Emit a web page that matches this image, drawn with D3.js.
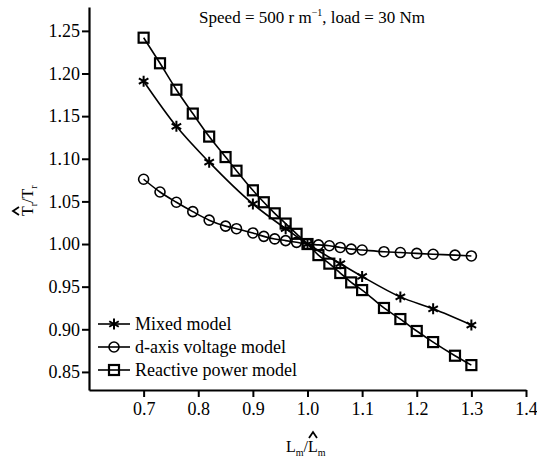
<!DOCTYPE html>
<html>
<head>
<meta charset="utf-8">
<script src="https://cdn.jsdelivr.net/npm/d3@7"></script>
</head>
<body style="margin:0;background:#fff">
<div id="warm" style="position:absolute;left:-9999px;top:0">
  <span style="font-family:'Liberation Serif'">a</span>
  <span style="font-family:Tinos">a</span>
  <span style="font-family:Times">a</span>
  <span style="font-family:'Times New Roman'">a</span>
</div>
<script>
// data
const xTicks = [0.7, 0.8, 0.9, 1.0, 1.1, 1.2, 1.3, 1.4];
const yTicks = [0.85, 0.90, 0.95, 1.00, 1.05, 1.10, 1.15, 1.20, 1.25];

const mixedX = [0.70, 0.76, 0.82, 0.90, 0.96, 1.00, 1.06, 1.10, 1.17, 1.23, 1.30];
const mixedY = [1.191, 1.138, 1.096, 1.047, 1.018, 1.000, 0.977, 0.962, 0.938, 0.924, 0.905];

const daxisX = [0.70, 0.73, 0.76, 0.79, 0.82, 0.85, 0.87, 0.90, 0.92, 0.94, 0.96, 0.98,
                1.00, 1.02, 1.04, 1.06, 1.08, 1.10, 1.14, 1.17, 1.20, 1.23, 1.27, 1.30];
const daxisY = [1.076, 1.061, 1.049, 1.038, 1.028, 1.021, 1.018, 1.013, 1.009, 1.006, 1.004, 1.002,
                1.000, 0.999, 0.998, 0.996, 0.994, 0.993, 0.991, 0.990, 0.989, 0.988, 0.987, 0.986];

const reactX = daxisX;
const reactY = [1.242, 1.212, 1.181, 1.153, 1.126, 1.102, 1.086, 1.063, 1.049, 1.036, 1.024, 1.012,
                1.000, 0.987, 0.977, 0.966, 0.955, 0.946, 0.925, 0.912, 0.898, 0.885, 0.869, 0.858];

const seriesNames = ['Mixed model', 'd-axis voltage model', 'Reactive power model'];
const seriesMarks = ['star', 'circle', 'square'];

// force a layout of the warm-up spans so the serif faces are looked up first
document.getElementById('warm').offsetWidth;

//////////////////////////////////////
// canvas and scales
//////////////////////////////////////
const WIDTH = 537;
const HEIGHT = 462;
const FONT = "'Times New Roman', Tinos, 'Liberation Serif'";

const svg = d3.select('body').append('svg')
  .attr('width', WIDTH)
  .attr('height', HEIGHT)
  .style('display', 'block');

const x = d3.scaleLinear().domain([0.6, 1.4]).range([89, 526]);
const y = d3.scaleLinear().domain([0.8288, 1.278]).range([390, 7]);

// axes
const xAxis = svg.append('g')
  .attr('transform', 'translate(0,' + y.range()[0] + ')')
  .call(d3.axisBottom(x).tickValues(xTicks).tickFormat(d3.format('.1f'))
    .tickSize(7).tickSizeOuter(0).tickPadding(5));

const yAxis = svg.append('g')
  .attr('transform', 'translate(' + x.range()[0] + ',0)')
  .call(d3.axisLeft(y).tickValues(yTicks).tickFormat(d3.format('.2f'))
    .tickSize(7).tickSizeOuter(0).tickPadding(2));

[xAxis, yAxis].forEach(a => {
  a.attr('font-family', null).attr('font-size', null);
  a.select('.domain').attr('stroke', '#000').attr('stroke-width', 2.2);
  a.selectAll('.tick line').attr('stroke', '#000').attr('stroke-width', 2);
  a.selectAll('.tick text')
    .style('font-family', FONT)
    .style('font-size', '18px')
    .attr('fill', '#000');
});

//////////////////////////////////////
// markers
//////////////////////////////////////
function marker (g, type, cx, cy) {
  switch (type) {
    case 'star': {
      let r = 5.5;
      let p = '';
      [90, 30, 150].forEach(a => {
        let dx = r * Math.cos(a * Math.PI / 180);
        let dy = r * Math.sin(a * Math.PI / 180);
        p += 'M' + (cx - dx) + ',' + (cy - dy) + 'L' + (cx + dx) + ',' + (cy + dy);
      });
      g.append('path').attr('d', p)
        .attr('stroke', '#000').attr('stroke-width', 2).attr('fill', 'none');
      break;
    }
    case 'circle':
      g.append('circle').attr('cx', cx).attr('cy', cy).attr('r', 5)
        .attr('stroke', '#000').attr('stroke-width', 1.6).attr('fill', 'none');
      break;
    case 'square':
      g.append('rect').attr('x', cx - 5).attr('y', cy - 5)
        .attr('width', 10).attr('height', 10)
        .attr('stroke', '#000').attr('stroke-width', 2.2).attr('fill', 'none');
      break;
    default:
      break;
  }
}

//////////////////////////////////////
// series
//////////////////////////////////////
const series = [
  { xs: mixedX, ys: mixedY, mark: seriesMarks[0] },
  { xs: daxisX, ys: daxisY, mark: seriesMarks[1] },
  { xs: reactX, ys: reactY, mark: seriesMarks[2] }
];

const line = d3.line()
  .x(d => x(d[0]))
  .y(d => y(d[1]))
  .curve(d3.curveMonotoneX);

const plot = svg.append('g');
series.forEach(s => {
  let pts = s.xs.map((v, i) => [v, s.ys[i]]);
  plot.append('path')
    .attr('d', line(pts))
    .attr('fill', 'none')
    .attr('stroke', '#000')
    .attr('stroke-width', 1.6);
  let mg = plot.append('g');
  pts.forEach(p => marker(mg, s.mark, x(p[0]), y(p[1])));
});

//////////////////////////////////////
// legend
//////////////////////////////////////
const legend = svg.append('g');
seriesNames.forEach((name, i) => {
  let ly = 324 + i * 23;
  legend.append('line')
    .attr('x1', 98).attr('x2', 130).attr('y1', ly).attr('y2', ly)
    .attr('stroke', '#000').attr('stroke-width', 1.6);
  marker(legend, seriesMarks[i], 114, ly);
  legend.append('text')
    .attr('x', 135).attr('y', ly + 6)
    .style('font-family', FONT)
    .style('font-size', '18px')
    .text(name);
});

//////////////////////////////////////
// title and axis titles
//////////////////////////////////////
const title = svg.append('text')
  .attr('x', 312).attr('y', 23)
  .attr('text-anchor', 'middle')
  .style('font-family', FONT)
  .style('font-size', '17px');
title.append('tspan').text('Speed = 500 r m');
title.append('tspan').attr('dy', -7).style('font-size', '10px').text('\u22121');
title.append('tspan').attr('dy', 7).text(', load = 30 Nm');

function hat (g, cx, top) {
  g.append('path')
    .attr('d', 'M' + (cx - 4) + ',' + top + 'L' + cx + ',' + (top - 6) + 'L' + (cx + 4) + ',' + top)
    .attr('fill', 'none').attr('stroke', '#000').attr('stroke-width', 1.8);
}

// one text per title, written from a fixed start so no measuring is needed
function ratio_text (g, x0, a, b) {
  let t = g.append('text').attr('x', x0).attr('y', 0)
    .style('font-family', FONT).style('font-size', '16px');
  t.append('tspan').text(a);
  t.append('tspan').attr('dy', 4).style('font-size', '10px').text(b);
  t.append('tspan').attr('dy', -4).text('/' + a);
  t.append('tspan').attr('dy', 4).style('font-size', '10px').text(b);
  return t;
}

// x title: Lm / L^m
const xl = svg.append('g').attr('transform', 'translate(307,452)');
ratio_text(xl, -21, 'L', 'm');
hat(xl, 6, -14);

// y title: T^r / Tr
const yl = svg.append('g').attr('transform', 'translate(33,201)rotate(-90)');
ratio_text(yl, -15, 'T', 'r');
hat(yl, -10, -14);

// re-apply the font a little later, in case the first layout fell back
setTimeout(() => {
  svg.selectAll('text').style('font-family', "'Times New Roman'");
}, 50);
</script>
</body>
</html>
